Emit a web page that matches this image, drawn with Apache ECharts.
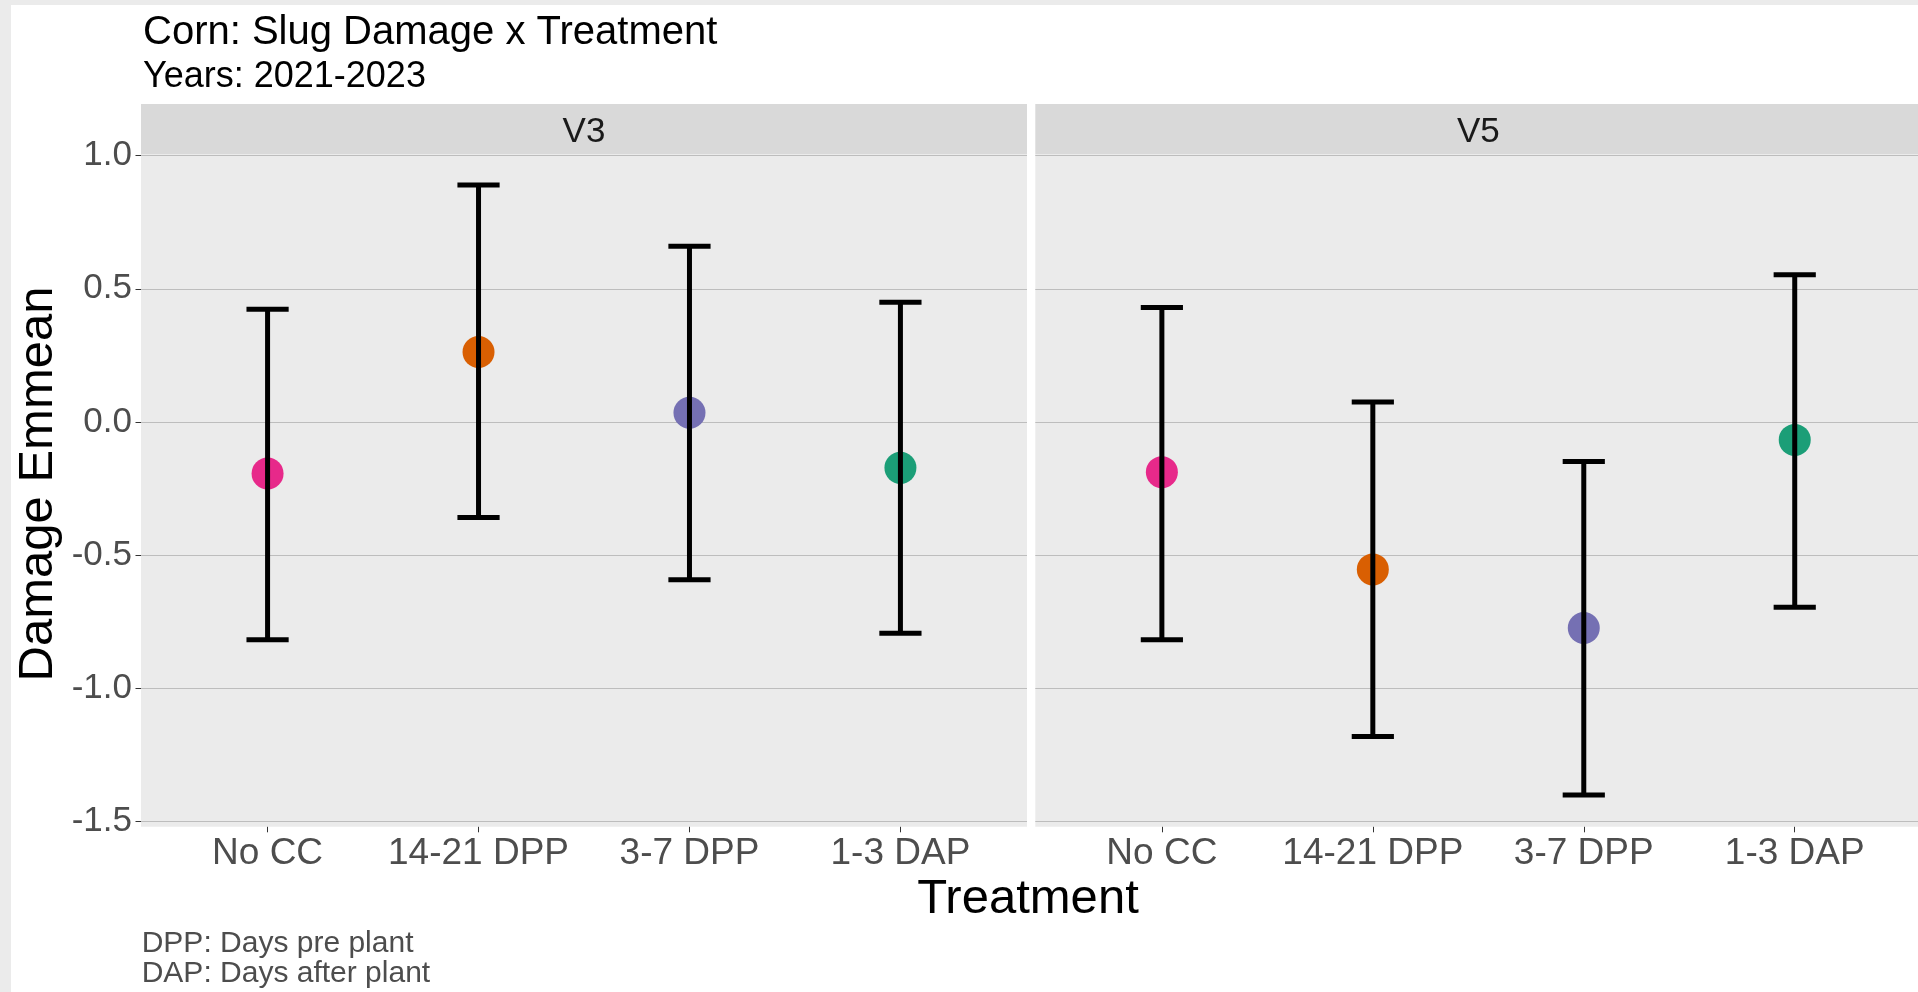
<!DOCTYPE html>
<html>
<head>
<meta charset="utf-8">
<script src="https://cdn.jsdelivr.net/npm/echarts@6/dist/echarts.min.js"></script>
<style>
html,body{margin:0;padding:0;background:#fff;}
#chart{width:1918px;height:992px;}
</style>
</head>
<body>
<div id="chart"></div>
<script>
// ---- data ----
const categories = ['No CC', '14-21 DPP', '3-7 DPP', '1-3 DAP'];
const facets = ['V3', 'V5'];
const v3Mean  = [-0.193, 0.263, 0.035, -0.172];
const v3Lower = [-0.817, -0.358, -0.592, -0.793];
const v3Upper = [0.423, 0.890, 0.660, 0.450];
const v5Mean  = [-0.188, -0.553, -0.773, -0.067];
const v5Lower = [-0.817, -1.180, -1.400, -0.695];
const v5Upper = [0.430, 0.075, -0.148, 0.553];
const treatmentColors = ['#E7298A', '#D95F02', '#7570B3', '#1B9E77'];
const yTicks = [-1.5, -1.0, -0.5, 0.0, 0.5, 1.0];
const titleText = 'Corn: Slug Damage x Treatment';
const subtitleText = 'Years: 2021-2023';
const xTitle = 'Treatment';
const yTitle = 'Damage Emmean';
const captionLines = ['DPP: Days pre plant', 'DAP: Days after plant'];

// ---- layout ----
const FONT = '"Liberation Sans", Arial, sans-serif';
const W = 1918, H = 992;
const panelW = 886;
const panelLefts = [141, 1035.3];
const band = panelW / 4.2;
const bgTop = 154.3, bgBottom = 826.8;
const dTop = 155.6, dBottom = 821.7;
const stripTop = 104;

const panels = [
  {name: facets[0], mean: v3Mean, lower: v3Lower, upper: v3Upper},
  {name: facets[1], mean: v5Mean, lower: v5Lower, upper: v5Upper}
];

const grids = [], xAxes = [], yAxes = [], series = [], graphics = [];
const yMin = Math.min(...yTicks), yMax = Math.max(...yTicks), yStep = yTicks[1] - yTicks[0];

panels.forEach((p, k) => {
  const L = panelLefts[k];
  // background grid
  const gC = grids.length;
  grids.push({left: L, top: bgTop, width: panelW, height: bgBottom - bgTop,
    show: true, backgroundColor: '#ebebeb', borderWidth: 0});
  xAxes.push({gridIndex: gC, type: 'category', data: categories, show: false});
  yAxes.push({gridIndex: gC, type: 'value', min: yMin, max: yMax, show: false, splitLine: {show: false}});
  // y-axis grid (full width split lines)
  const gA = grids.length;
  grids.push({left: L, top: dTop, width: panelW, height: dBottom - dTop, show: false});
  xAxes.push({gridIndex: gA, type: 'category', data: categories, show: false,
    axisLine: {show: false, onZero: false}});
  yAxes.push({gridIndex: gA, type: 'value', min: yMin, max: yMax, interval: yStep,
    axisLine: {show: false, onZero: false},
    axisTick: {show: k === 0, length: 5.5, lineStyle: {color: '#333333', width: 1}},
    axisLabel: {show: k === 0, fontSize: 35, fontFamily: FONT, color: '#4d4d4d', margin: 9,
      padding: [8, 0, 0, 0], formatter: v => v.toFixed(1)},
    splitLine: {show: true, lineStyle: {color: '#bdbdbd', width: 1.2}}
  });
  // data grid
  const gB = grids.length;
  grids.push({left: L + band * 0.1, top: dTop, width: band * 4, height: dBottom - dTop, show: false});
  const xB = xAxes.length;
  xAxes.push({gridIndex: gB, type: 'category', data: categories, position: 'bottom',
    offset: bgBottom - dBottom,
    axisLine: {show: false, onZero: false},
    axisTick: {show: true, alignWithLabel: true, length: 5.5, lineStyle: {color: '#333333', width: 1}},
    axisLabel: {show: true, interval: 0, fontSize: 37, fontFamily: FONT, color: '#4d4d4d', margin: 8},
    splitLine: {show: false}
  });
  const yB = yAxes.length;
  yAxes.push({gridIndex: gB, type: 'value', min: yMin, max: yMax, show: false, splitLine: {show: false},
    axisLine: {onZero: false}});

  series.push({
    type: 'scatter', xAxisIndex: xB, yAxisIndex: yB, symbol: 'circle', symbolSize: 32, z: 2,
    data: p.mean.map((v, i) => ({value: [i, v], itemStyle: {color: treatmentColors[i], opacity: 1}})),
    silent: true
  });
  series.push({
    type: 'custom', xAxisIndex: xB, yAxisIndex: yB, z: 3, silent: true,
    data: categories.map((c, i) => [i, p.lower[i], p.upper[i]]),
    encode: {x: 0, y: [1, 2]},
    renderItem: function (params, api) {
      const xi = api.value(0);
      const lo = api.coord([xi, api.value(1)]);
      const hi = api.coord([xi, api.value(2)]);
      const half = api.size([1, 0])[0] * 0.1;
      const st = {stroke: '#000000', lineWidth: 5, lineCap: 'butt'};
      return {type: 'group', children: [
        {type: 'line', shape: {x1: lo[0], y1: lo[1], x2: hi[0], y2: hi[1]}, style: st},
        {type: 'line', shape: {x1: hi[0] - half, y1: hi[1], x2: hi[0] + half, y2: hi[1]}, style: st},
        {type: 'line', shape: {x1: lo[0] - half, y1: lo[1], x2: lo[0] + half, y2: lo[1]}, style: st}
      ]};
    }
  });

  // strip
  graphics.push({type: 'rect', shape: {x: L, y: stripTop, width: panelW, height: bgTop - stripTop},
    style: {fill: '#d9d9d9'}, silent: true});
  graphics.push({type: 'text', x: L + panelW / 2, y: 132,
    style: {text: p.name, fill: '#1a1a1a', font: '35px ' + FONT,
      textAlign: 'center', textVerticalAlign: 'middle', align: 'center', verticalAlign: 'middle'}, silent: true});
});

// outer frame
graphics.push({type: 'rect', shape: {x: 0, y: 0, width: 11, height: H}, style: {fill: '#ebebeb'}, silent: true});
graphics.push({type: 'rect', shape: {x: 0, y: 0, width: W, height: 5}, style: {fill: '#ebebeb'}, silent: true});
// axis titles
graphics.push({type: 'text', x: 1028, y: 875,
  style: {text: xTitle, fill: '#000000', font: '49px ' + FONT,
    textAlign: 'center', textVerticalAlign: 'top', align: 'center', verticalAlign: 'top'}, silent: true});
graphics.push({type: 'text', x: 38.7, y: 484, rotation: Math.PI / 2,
  style: {text: yTitle, fill: '#000000', font: '49px ' + FONT,
    textAlign: 'center', textVerticalAlign: 'middle', align: 'center', verticalAlign: 'middle'}, silent: true});
// caption
graphics.push({type: 'text', x: 141.7, y: 929,
  style: {text: captionLines.join('\n'), fill: '#4d4d4d', font: '30px ' + FONT, lineHeight: 30,
    textAlign: 'left', textVerticalAlign: 'top', align: 'left', verticalAlign: 'top'}, silent: true});

const option = {
  animation: false,
  backgroundColor: '#ffffff',
  title: [
    {text: titleText, left: 143, top: 12.6, padding: 0,
      textStyle: {fontSize: 40, fontWeight: 'normal', color: '#000000', fontFamily: FONT}},
    {text: subtitleText, left: 143, top: 59, padding: 0,
      textStyle: {fontSize: 36, fontWeight: 'normal', color: '#000000', fontFamily: FONT}}
  ],
  grid: grids,
  xAxis: xAxes,
  yAxis: yAxes,
  series: series,
  graphic: {elements: graphics}
};

const chart = echarts.init(document.getElementById('chart'), null, {renderer: 'canvas', width: W, height: H});
chart.setOption(option);
</script>
</body>
</html>
